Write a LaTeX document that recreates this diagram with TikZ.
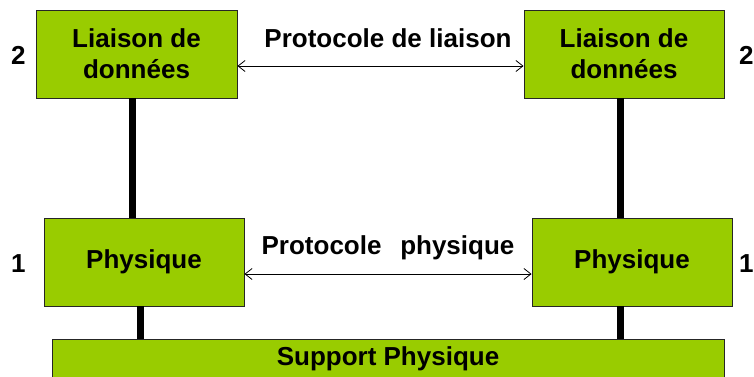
\documentclass[tikz,border=0pt]{standalone}
\usepackage{fontspec}
\setmainfont{Liberation Sans}
\usetikzlibrary{arrows.meta,calc}
\definecolor{layergreen}{HTML}{99CC00}
\begin{document}
\begin{tikzpicture}[x=1pt,y=-1pt,
  layer/.style={draw=black!85,line width=0.9pt,fill=layergreen,inner sep=0pt,
    align=center,font=\fontsize{26}{31}\selectfont\bfseries},
  lbl/.style={inner sep=0pt,font=\fontsize{26}{31}\selectfont\bfseries},
  link/.style={line width=7pt,black},
  proto/.style={line width=0.8pt,{Straight Barb[length=7pt,width=11pt]}-{Straight Barb[length=7pt,width=11pt]}}]
\useasboundingbox (0,0) rectangle (754,376);
\clip (0,0) rectangle (754,376);

% protocol layers
\node[layer,minimum width=201pt,minimum height=88pt] (L2a) at (136.5,54) {Liaison de\\données};
\node[layer,minimum width=200pt,minimum height=88pt] (L2b) at (624,54) {Liaison de\\données};
\node[layer,minimum width=200pt,minimum height=88pt] (P1a) at (144,262) {Physique};
\node[layer,minimum width=200pt,minimum height=88pt] (P1b) at (632,262) {Physique};
\node[layer,minimum width=672pt,minimum height=40pt] (sup) at (388,359) {Support Physique};

% layer numbers
\node[lbl,anchor=west] (n2a) at (11,55) {2};
\node[lbl,anchor=west] (n2b) at (739,55) {2};
\node[lbl,anchor=west] (n1a) at (11,264) {1};
\node[lbl,anchor=west] (n1b) at (739,264) {1};

% vertical links
\draw[link] ([xshift=-4.5pt]L2a.south) -- ([xshift=-12pt]P1a.north);
\draw[link] ([xshift=-3.5pt]L2b.south) -- ([xshift=-11.5pt]P1b.north);
\draw[link] ([xshift=-4pt]P1a.south) -- ([xshift=-4pt]P1a.south |- sup.north);
\draw[link] ([xshift=-12pt]P1b.south) -- ([xshift=-12pt]P1b.south |- sup.north);

% peer protocols
\draw[proto] ([yshift=-12pt]L2a.east) -- ([yshift=-12pt]L2b.west);
\draw[proto] ([yshift=-12pt]P1a.east) -- ([yshift=-12pt]P1b.west);
\node[lbl] (pl) at (388,38) {Protocole de liaison};
\node[lbl] (pp) at (388,248) {Protocole\hspace{0.72em}physique};
\end{tikzpicture}
\end{document}
